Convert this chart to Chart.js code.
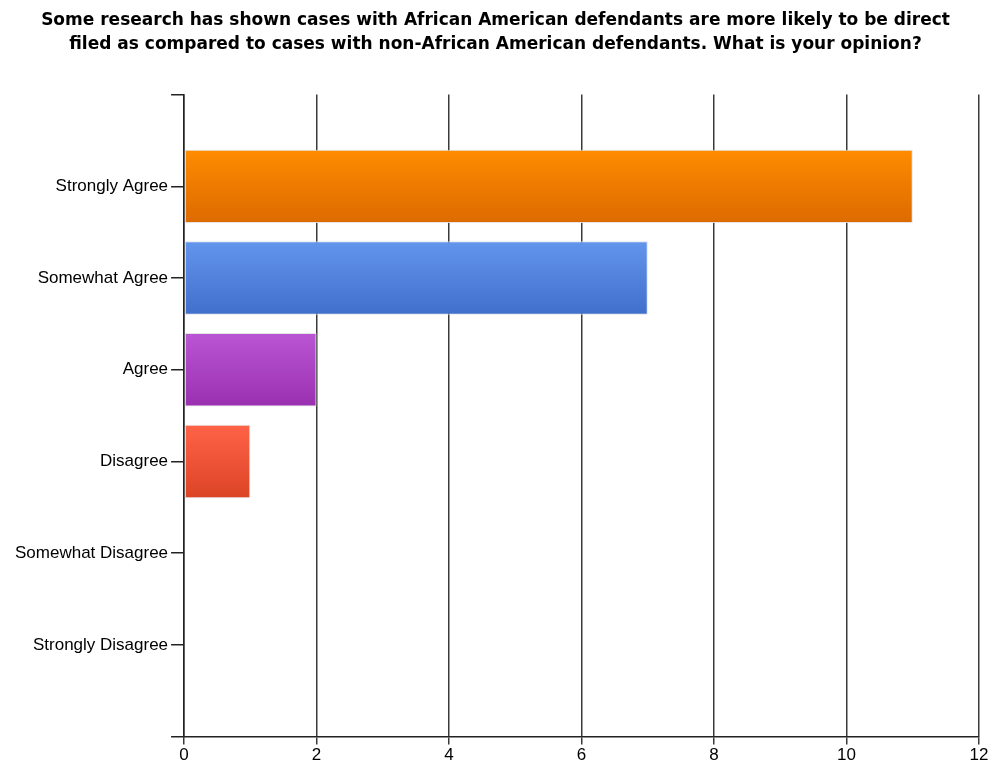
<!DOCTYPE html>
<html>
<head>
<meta charset="utf-8">
<script src="https://cdn.jsdelivr.net/npm/chart.js@4"></script>
<style>
  body { margin: 0; background: #fff; }
</style>
</head>
<body>
<canvas id="myChart" width="991" height="767"></canvas>
<script>
/*----------------------------BarChart------------------------------------*/

// blank first and last labels give the half-slot space above and below
var categories = ['', 'Strongly Agree', 'Somewhat Agree', 'Agree', 'Disagree', 'Somewhat Disagree', 'Strongly Disagree', ''];
var counts = [null, 11, 7, 2, 1, 0, 0, null];
var xTicks = [0, 2, 4, 6, 8, 10, 12];

var topColors = [null, '#FF8C00', '#6495ED', '#BA55D3', '#FF6347', '#FF8C00', '#6495ED', null];
var bottomColors = [null, '#DC6A00', '#3F6FCB', '#9A30B0', '#DC4426', '#DC6A00', '#3F6FCB', null];

var font = "'Liberation Sans', Arial, sans-serif";

new Chart("myChart", {
  type: "bar",
  data: {
    labels: categories,
    datasets: [{
      data: counts,
      backgroundColor: function(c) {
        var chart = c.chart, y = chart.scales.y;
        var i = c.dataIndex;
        if (!y || !topColors[i]) return '#FF8C00';
        var mid = y.getPixelForValue(i);
        var half = (y.height / 7) * 0.8 / 2;
        var g = chart.ctx.createLinearGradient(0, mid - half, 0, mid + half);
        g.addColorStop(0, topColors[i]);
        g.addColorStop(1, bottomColors[i]);
        return g;
      },
      borderColor: 'rgba(225,225,225,0.9)',
      borderWidth: function(c) { return c.raw ? 1 : 0; },
      borderSkipped: false,
      categoryPercentage: 1,
      barPercentage: 0.8
    }]
  },
  options: {
    indexAxis: 'y',
    responsive: false,
    animation: false,
    layout: { padding: { left: 12, right: 12, top: 0, bottom: 0 } },
    plugins: {
      legend: { display: false },
      tooltip: { enabled: false },
      title: {
        display: true,
        text: ['Some research has shown cases with African American defendants are more likely to be direct',
               'filed as compared to cases with non-African American defendants. What is your opinion?'],
        color: '#000',
        font: { family: "'DejaVu Sans', Verdana, sans-serif", size: 17, weight: 'bold', lineHeight: 1.4 },
        padding: { top: 9, bottom: 38 }
      }
    },
    scales: {
      x: {
        min: 0,
        max: 12,
        afterBuildTicks: function(s) { s.ticks = xTicks.map(function(v) { return { value: v }; }); },
        grid: { color: '#3a3a3a', lineWidth: 1.5, tickLength: 8, drawTicks: true },
        border: { color: '#222', width: 1.5 },
        ticks: { color: '#000', font: { family: font, size: 17 }, padding: 1, maxRotation: 0 }
      },
      y: {
        offset: false,
        grid: { offset: false, drawOnChartArea: false, color: '#222', lineWidth: 1.5, tickLength: 13 },
        border: { color: '#222', width: 1.5 },
        ticks: { color: '#000', font: { family: font, size: 17 }, padding: 3, autoSkip: false }
      }
    }
  }
});
</script>
</body>
</html>
